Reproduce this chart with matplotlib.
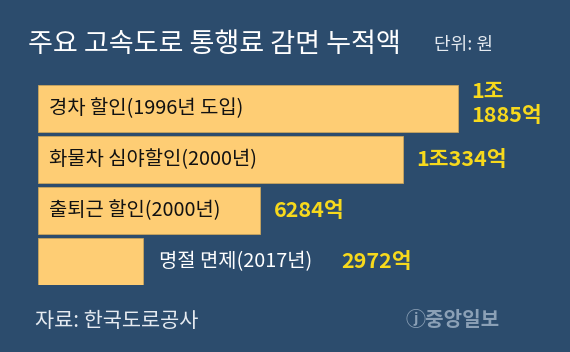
import matplotlib
matplotlib.use("Agg")
import matplotlib.pyplot as plt

plt.rcParams['font.family'] = ['Noto Sans CJK KR', 'DejaVu Sans']

categories = ["경차 할인(1996년 도입)", "화물차 심야할인(2000년)", "출퇴근 할인(2000년)", "명절 면제(2017년)"]
values = [11885, 10334, 6284, 2972]  # 억원
value_labels = ["1조\n1885억", "1조334억", "6284억", "2972억"]
inside = [True, True, True, False]

BG = "#2c4c6d"
BAR = "#fecd74"
VAL = "#f7d91c"

W, H = 570, 352
fig = plt.figure(figsize=(W / 100, H / 100), dpi=100, facecolor=BG)
ax = fig.add_axes([38 / W, 67 / H, (W - 38) / W, 200 / H])
ax.set_facecolor(BG)
ax.set_xlim(0, (W - 38) / 0.03534)
ax.set_ylim(3.46, -0.46)
ax.axis("off")

ys = list(range(len(values)))
ax.barh(ys, values, height=0.92, color=BAR, edgecolor="#c9a45e", linewidth=0.6)

for y, v, cat, lab, ins in zip(ys, values, categories, value_labels, inside):
    if ins:
        ax.text(300, y, cat, color="#111111", fontsize=14.3, va="center", ha="left")
        ytxt = y - 0.1 if "\n" in lab else y
        ax.text(v + 380, ytxt, lab, color=VAL, fontsize=15.5, fontweight="bold",
                va="center", ha="left", linespacing=1.15)
    else:
        ax.text(v + 460, y, cat, color="#ffffff", fontsize=14.3, va="center", ha="left")
        ax.text(v + 5600, y, lab, color=VAL, fontsize=15.5, fontweight="bold",
                va="center", ha="left")

fig.text(28 / W, 1 - 45 / H, "주요 고속도로 통행료 감면 누적액", color="white",
         fontsize=19.5, fontweight="medium", va="center", ha="left")
fig.text(434 / W, 1 - 45 / H, "단위: 원", color="#e6ebf1", fontsize=13, va="center", ha="left")
fig.text(35 / W, 1 - 321 / H, "자료: 한국도로공사", color="#e6ebf1", fontsize=15, va="center", ha="left")
fig.text(500 / W, 1 - 320 / H, "ⓙ중앙일보", color="#8ba0b6", fontsize=14.5, fontweight="bold",
         va="center", ha="right")

fig.savefig("out.png", dpi=100, facecolor=BG)
